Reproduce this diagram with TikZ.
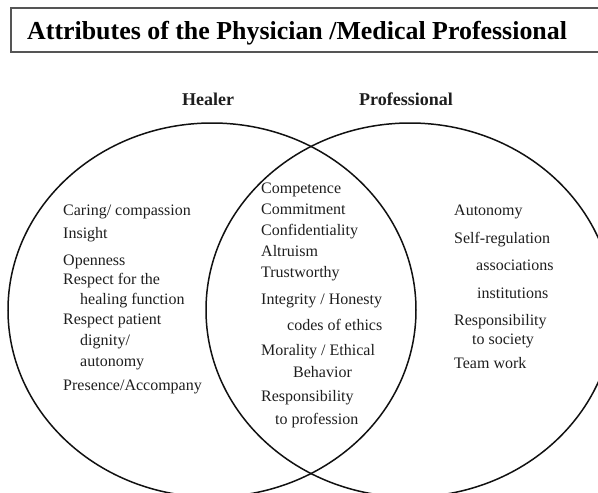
\documentclass[tikz,border=0pt]{standalone}
\usepackage{fontspec}
\setmainfont{Liberation Serif}
\usepackage{xcolor}
\usetikzlibrary{positioning}
\definecolor{ink}{HTML}{1E1E1E}
\definecolor{rim}{HTML}{111111}
\definecolor{boxline}{HTML}{555555}
\newcommand{\Body}{\fontsize{16}{18}\selectfont}
\newcommand{\Head}{\fontsize{18}{21}\selectfont\bfseries}

\begin{document}
\begin{tikzpicture}[x=1pt,y=-1pt, font=\Body,
    item/.style={anchor=mid west, inner sep=0pt, text=ink},
    setname/.style={anchor=base, inner sep=0pt, text=ink, font=\Head}]
      \clip (0,0) rectangle (598,493);
      % title box
      \draw[boxline,line width=1.4pt] (11,8) rectangle (606,52);
      \node[anchor=base west, inner sep=0pt, text=black, font=\fontsize{25.9}{28}\selectfont\bfseries] (title) at (27,39){Attributes of the Physician /Medical Professional};
      % the two sets
      \draw[rim,line width=1.5pt] (212,310) ellipse [x radius=204, y radius=187];
      \draw[rim,line width=1.5pt] (410,310) ellipse [x radius=204, y radius=187];
      \node[setname] (healer) at (208,105){Healer};
      \node[setname] (prof) at (406,105){Professional};
      % healer only
      \foreach \x/\y/\t [count=\i] in {63/213/{Caring/ compassion}, 63/236/Insight, 63/263/Openness,
          63/282/Respect for the, 80/302/healing function, 63/322/Respect patient,
          80/343/{dignity/}, 80/364/autonomy, 63/388/{Presence/Accompany}}{
        \node[item] (heal\i) at (\x,\y){\t};}
      % shared
      \foreach \x/\y/\t [count=\i] in {261/191/Competence, 261/212/Commitment, 261/233/Confidentiality,
          261/254/Altruism, 261/275/Trustworthy, 261/302/{Integrity / Honesty},
          287/328/codes of ethics, 261/353/{Morality / Ethical}, 293/375/Behavior,
          261/399/Responsibility, 275/422/to profession}{
        \node[item] (both\i) at (\x,\y){\t};}
      % professional only
      \foreach \x/\y/\t [count=\i] in {454/213/Autonomy, 454/241/Self-regulation, 476/268/associations,
          477/296/institutions, 454/323/Responsibility, 472/342/to society, 454/366/Team work}{
        \node[item] (prof\i) at (\x,\y){\t};}
    \end{tikzpicture}
\end{document}
